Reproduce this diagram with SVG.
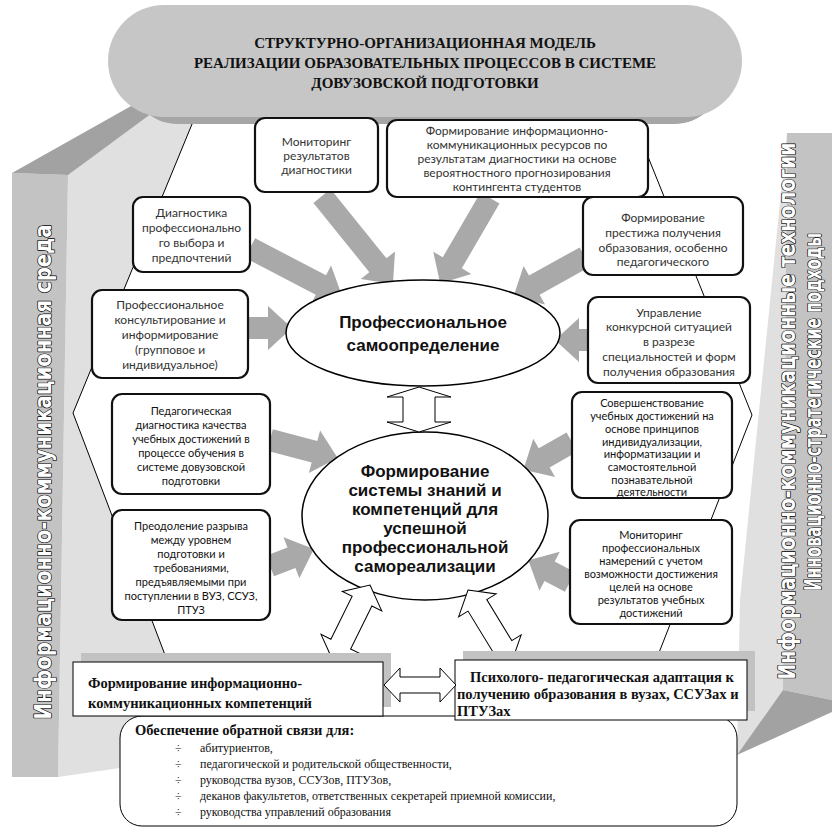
<svg xmlns="http://www.w3.org/2000/svg" width="832" height="829" viewBox="0 0 832 829">
<defs>
<style>
.face{fill:#c3c3c3}
.top{fill:#a2a2a2}
.light{fill:#e0e0e0}
.hex{fill:#fff;stroke:#000;stroke-width:1}
.box{fill:#fff;stroke:#111;stroke-width:2.2}
.sq{fill:#fff;stroke:#000;stroke-width:1}
.shadow{fill:#c2c2c2}
.ell{fill:#fff;stroke:#000;stroke-width:1.5}
.garrow{fill:#a9a9a9}
.harrow{fill:#fff;stroke:#000;stroke-width:1}
.bt{font-family:Lato,"Open Sans",sans-serif;font-size:12px;fill:#333;text-anchor:middle}
.bt2{font-family:Lato,"Open Sans",sans-serif;font-size:11px;fill:#111;text-anchor:middle}
.et{font-family:"Liberation Sans",Arial,sans-serif;font-weight:bold;font-size:17px;fill:#111;text-anchor:middle}
.tt{font-family:"Liberation Serif",serif;font-weight:bold;font-size:15px;fill:#111;text-anchor:middle}
.bb{font-family:"Liberation Serif",serif;font-weight:bold;font-size:14.5px;fill:#111}
.fl{font-family:"Liberation Serif",serif;font-size:12px;fill:#111}
.side{font-family:"DejaVu Sans","Liberation Sans",sans-serif;font-weight:bold;font-size:23px;fill:#fff;stroke:#000;stroke-width:1.4;paint-order:stroke fill;stroke-linejoin:round;text-anchor:middle}
</style>
</defs>

<g id="frame">
  <polygon class="light" points="68,175 150,112 300,112 300,760 120,768 58,777"/>
  <polygon class="face" points="12,173 68,175 58,777 12,777"/>
  <polygon class="top" points="12,173 140,101 152,113 68,175"/>
  <polygon class="light" points="787,133 783,690 737,755 740,600"/>
  <polygon class="face" points="787,133 832,133 832,700 783,690"/>
  <polygon class="top" points="783,690 832,700 832,712 737,755"/>
</g>

<g id="hexagon">
  <polygon class="hex" points="197,112 630,112 752,415 617,760 205,760 73,413"/>
</g>

<g id="title">
  <rect x="128" y="20" width="596" height="104" rx="50" fill="#a6a6a6"/>
  <rect x="108" y="5" width="634" height="112" rx="56" fill="#c6c6c6"/>
  <text class="tt" x="425" y="48">СТРУКТУРНО-ОРГАНИЗАЦИОННАЯ МОДЕЛЬ</text>
  <text class="tt" x="425" y="68">РЕАЛИЗАЦИИ ОБРАЗОВАТЕЛЬНЫХ ПРОЦЕССОВ В СИСТЕМЕ</text>
  <text class="tt" x="425" y="88">ДОВУЗОВСКОЙ ПОДГОТОВКИ</text>
</g>

<g id="connectors">
  <path class="garrow" transform="translate(322,196) rotate(51.1)" d="M0,-11 H89 V-22 L113,0 L89,22 V11 H0 Z"/>
  <path class="garrow" transform="translate(490,198) rotate(120.2)" d="M0,-11 H75 V-22 L99,0 L75,22 V11 H0 Z"/>
  <path class="garrow" transform="translate(250,248) rotate(27.6)" d="M0,-11 H80 V-22 L104,0 L80,22 V11 H0 Z"/>
  <path class="garrow" transform="translate(248,328) rotate(0)" d="M0,-11 H20 V-22 L44,0 L20,22 V11 H0 Z"/>
  <path class="garrow" transform="translate(585,257) rotate(150.9)" d="M0,-11 H58 V-22 L82,0 L58,22 V11 H0 Z"/>
  <path class="garrow" transform="translate(592,340) rotate(180)" d="M0,-11 H13 V-22 L37,0 L13,22 V11 H0 Z"/>
  <path class="garrow" transform="translate(270,440) rotate(14.8)" d="M0,-11 H46 V-22 L70,0 L46,22 V11 H0 Z"/>
  <path class="garrow" transform="translate(270,566) rotate(-21.1)" d="M0,-11 H23 V-22 L47,0 L23,22 V11 H0 Z"/>
  <path class="garrow" transform="translate(572,442) rotate(150.3)" d="M0,-11 H32 V-22 L56,0 L32,22 V11 H0 Z"/>
  <path class="garrow" transform="translate(570,582) rotate(207.6)" d="M0,-11 H23 V-22 L47,0 L23,22 V11 H0 Z"/>
</g>

<g id="n-monitoring">
  <rect class="box" x="255" y="118" width="123" height="74" rx="10"/>
  <text class="bt" x="316.5" y="146">Мониторинг</text>
  <text class="bt" x="316.5" y="160">результатов</text>
  <text class="bt" x="316.5" y="174">диагностики</text>
</g>
<g id="n-resources">
  <rect class="box" x="387" y="120" width="261" height="77" rx="10"/>
  <text class="bt" x="517" y="135">Формирование информационно-</text>
  <text class="bt" x="517" y="149">коммуникационных ресурсов по</text>
  <text class="bt" x="517" y="163">результатам диагностики  на основе</text>
  <text class="bt" x="517" y="177">вероятностного прогнозирования</text>
  <text class="bt" x="517" y="191">контингента студентов</text>
</g>
<g id="n-diagnostics">
  <rect class="box" x="133" y="197" width="117" height="75" rx="10"/>
  <text class="bt" x="191.5" y="217">Диагностика</text>
  <text class="bt" x="191.5" y="232">профессионально</text>
  <text class="bt" x="191.5" y="247">го выбора и</text>
  <text class="bt" x="191.5" y="262">предпочтений</text>
</g>
<g id="n-prestige">
  <rect class="box" x="583" y="197" width="160" height="78" rx="10"/>
  <text class="bt" x="663" y="222">Формирование</text>
  <text class="bt" x="663" y="237">престижа получения</text>
  <text class="bt" x="663" y="252">образования, особенно</text>
  <text class="bt" x="663" y="266">педагогического</text>
</g>
<g id="n-consulting">
  <rect class="box" x="92" y="290" width="156" height="88" rx="10"/>
  <text class="bt" x="170" y="309">Профессиональное</text>
  <text class="bt" x="170" y="324">консультирование и</text>
  <text class="bt" x="170" y="339">информирование</text>
  <text class="bt" x="170" y="354">(групповое и</text>
  <text class="bt" x="170" y="369">индивидуальное)</text>
</g>
<g id="n-competition">
  <rect class="box" x="588" y="297" width="162" height="86" rx="10"/>
  <text class="bt" x="669" y="317">Управление</text>
  <text class="bt" x="669" y="331">конкурсной ситуацией</text>
  <text class="bt" x="669" y="346">в разрезе</text>
  <text class="bt" x="669" y="361">специальностей и форм</text>
  <text class="bt" x="669" y="376">получения образования</text>
</g>
<g id="n-pedagogical">
  <rect class="box" x="112" y="394" width="158" height="100" rx="10"/>
  <text class="bt2" x="191" y="415">Педагогическая</text>
  <text class="bt2" x="191" y="429">диагностика качества</text>
  <text class="bt2" x="191" y="443">учебных достижений в</text>
  <text class="bt2" x="191" y="457">процессе обучения в</text>
  <text class="bt2" x="191" y="471">системе довузовской</text>
  <text class="bt2" x="191" y="485">подготовки</text>
</g>
<g id="n-gap">
  <rect class="box" x="112" y="510" width="158" height="110" rx="10"/>
  <text class="bt2" x="191" y="530">Преодоление разрыва</text>
  <text class="bt2" x="191" y="544">между уровнем</text>
  <text class="bt2" x="191" y="558">подготовки и</text>
  <text class="bt2" x="191" y="572">требованиями,</text>
  <text class="bt2" x="191" y="586">предъявляемыми при</text>
  <text class="bt2" x="191" y="600">поступлении в ВУЗ, ССУЗ,</text>
  <text class="bt2" x="191" y="614">ПТУЗ</text>
</g>
<g id="n-improvement">
  <rect class="box" x="572" y="392" width="160" height="106" rx="10"/>
  <text class="bt2" x="652" y="407">Совершенствование</text>
  <text class="bt2" x="652" y="420">учебных достижений на</text>
  <text class="bt2" x="652" y="433">основе принципов</text>
  <text class="bt2" x="652" y="446">индивидуализации,</text>
  <text class="bt2" x="652" y="458">информатизации и</text>
  <text class="bt2" x="652" y="471">самостоятельной</text>
  <text class="bt2" x="652" y="484">познавательной</text>
  <text class="bt2" x="652" y="496">деятельности</text>
</g>
<g id="n-intentions">
  <rect class="box" x="570" y="520" width="162" height="104" rx="10"/>
  <text class="bt2" x="651" y="539">Мониторинг</text>
  <text class="bt2" x="651" y="552">профессиональных</text>
  <text class="bt2" x="651" y="565">намерений с учетом</text>
  <text class="bt2" x="651" y="578">возможности достижения</text>
  <text class="bt2" x="651" y="591">целей на основе</text>
  <text class="bt2" x="651" y="604">результатов  учебных</text>
  <text class="bt2" x="651" y="617">достижений</text>
</g>

<g id="n-selfdetermination">
  <ellipse class="ell" cx="423" cy="333" rx="137" ry="53"/>
  <text class="et" x="423" y="328">Профессиональное</text>
  <text class="et" x="423" y="351">самоопределение</text>
</g>
<g id="n-knowledge">
  <ellipse class="ell" cx="425" cy="516" rx="123" ry="84"/>
  <text class="et" x="425" y="477" font-size="16">Формирование</text>
  <text class="et" x="425" y="496" font-size="16">системы знаний и</text>
  <text class="et" x="425" y="515" font-size="16">компетенций для</text>
  <text class="et" x="425" y="534" font-size="16">успешной</text>
  <text class="et" x="425" y="553" font-size="16">профессиональной</text>
  <text class="et" x="425" y="572" font-size="16">самореализации</text>
</g>

<g id="hollow-arrows">
  <path class="harrow" transform="translate(419,387) rotate(90)" d="M0,0 L10,-32 V-16 H35 V-32 L45,0 L35,32 V16 H10 V32 Z"/>
  <path class="harrow" transform="translate(370,585) rotate(116.3)" d="M0,0 L18,-22 V-11 H66 V-22 L84,0 L66,22 V11 H18 V22 Z"/>
  <path class="harrow" transform="translate(468,590) rotate(58.6)" d="M0,0 L18,-22 V-11 H66 V-22 L84,0 L66,22 V11 H18 V22 Z"/>
</g>

<g id="n-feedback">
  <rect class="sq" x="120" y="716" width="617" height="110" rx="22"/>
  <text class="bb" x="135" y="735">Обеспечение обратной связи для:</text>
  <text class="fl" x="175" y="752">÷</text><text class="fl" x="200" y="752">абитуриентов,</text>
  <text class="fl" x="175" y="768">÷</text><text class="fl" x="200" y="768">педагогической и родительской общественности,</text>
  <text class="fl" x="175" y="784">÷</text><text class="fl" x="200" y="784">руководства вузов, ССУЗов, ПТУЗов,</text>
  <text class="fl" x="175" y="800">÷</text><text class="fl" x="200" y="800">деканов факультетов, ответственных секретарей  приемной комиссии,</text>
  <text class="fl" x="175" y="816">÷</text><text class="fl" x="200" y="816">руководства управлений образования</text>
</g>

<g id="n-ict-competence">
  <rect class="shadow" x="81" y="653" width="310" height="54"/>
  <rect class="sq" x="73" y="662" width="310" height="54"/>
  <text class="bb" x="88" y="688">Формирование информационно-</text>
  <text class="bb" x="88" y="708">коммуникационных компетенций</text>
</g>
<g id="n-adaptation">
  <rect class="shadow" x="463" y="651" width="292" height="60"/>
  <rect class="sq" x="455" y="660" width="292" height="60"/>
  <text class="bb" x="470" y="682">Психолого- педагогическая адаптация к</text>
  <text class="bb" x="457" y="699">получению образования в  вузах, ССУЗах и</text>
  <text class="bb" x="457" y="716">ПТУЗах</text>
</g>
<g id="bottom-arrow">
  <path class="harrow" transform="translate(384,685)" d="M0,0 L16,-17 V-8 H56 V-17 L72,0 L56,17 V8 H16 V17 Z"/>
</g>

<g id="side-labels">
  <text class="side" transform="translate(51,472) rotate(-90)" textLength="495" lengthAdjust="spacingAndGlyphs">Информационно-коммуникационная среда</text>
  <text class="side" transform="translate(795,411) rotate(-90)" textLength="537" lengthAdjust="spacingAndGlyphs" font-size="21">Информационно-коммуникационные технологии</text>
  <text class="side" transform="translate(821,412) rotate(-90)" textLength="358" lengthAdjust="spacingAndGlyphs" font-size="20">Инновационно-стратегические подходы</text>
</g>
</svg>
